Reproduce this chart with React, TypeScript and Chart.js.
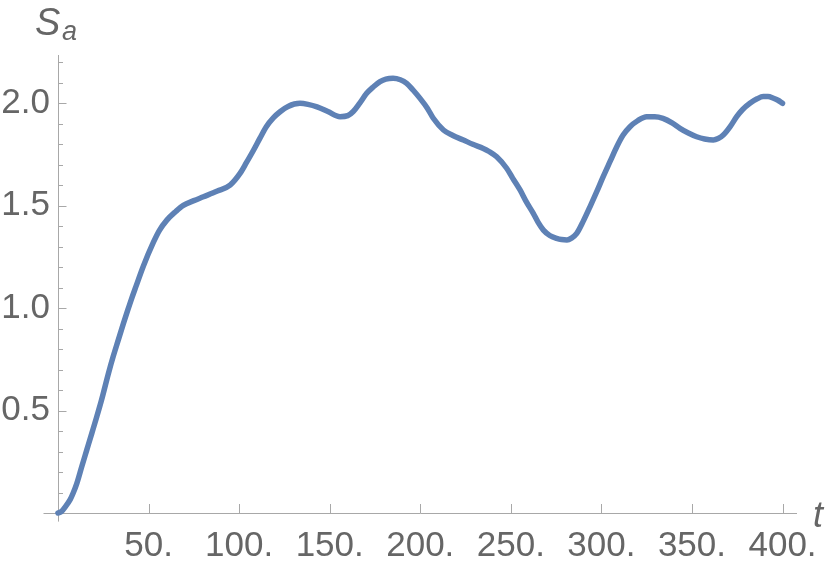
import React, { useEffect, useRef } from 'react';
import { Chart, registerables } from 'chart.js';

Chart.register(...registerables);

// Data
const tValues = [
  0, 2, 4, 6.7, 8.5, 10.4, 13.1, 15.9, 18.7, 21.4, 24, 27.8, 30.5, 33.3, 36, 38.5, 40.7, 43, 47.1, 52.7, 56,
  60.1, 65, 69.2, 75, 80.3, 88, 95, 100.5, 104, 108, 111.5, 115, 119, 122.6, 127, 133.6, 138, 143, 149,
  155.7, 160, 163, 166.5, 170.4, 174, 177.8, 181, 185, 189, 192.5, 196, 200, 204, 207.2, 212.8, 218, 223.8,
  229, 234.8, 238, 242.2, 247.7, 251, 255.1, 258.5, 262.4, 265, 268, 271.5, 275.3, 278, 281, 283.5, 286.4,
  290, 293.7, 297.5, 301, 305, 308.5, 312, 315.8, 320, 325, 329.5, 334, 339, 343.4, 348, 352.6, 357, 361.8,
  364.5, 367.3, 371, 374.7, 378, 382, 386, 389.4, 392, 395, 397.5, 400,
];
const saValues = [
  0, 0.008, 0.03, 0.065, 0.1, 0.145, 0.226, 0.308, 0.39, 0.47, 0.55, 0.68, 0.765, 0.845, 0.922, 0.99,
  1.048, 1.105, 1.205, 1.322, 1.38, 1.43, 1.472, 1.502, 1.525, 1.544, 1.572, 1.601, 1.658, 1.71, 1.772,
  1.83, 1.886, 1.93, 1.959, 1.985, 2.0, 1.995, 1.983, 1.96, 1.935, 1.94, 1.96, 2.0, 2.049, 2.08, 2.106,
  2.118, 2.122, 2.115, 2.098, 2.065, 2.023, 1.975, 1.927, 1.87, 1.843, 1.821, 1.8, 1.78, 1.765, 1.739,
  1.683, 1.635, 1.577, 1.52, 1.463, 1.42, 1.381, 1.355, 1.341, 1.335, 1.333, 1.342, 1.365, 1.425, 1.495,
  1.57, 1.642, 1.72, 1.788, 1.845, 1.886, 1.915, 1.935, 1.935, 1.927, 1.905, 1.878, 1.855, 1.837, 1.826,
  1.821, 1.828, 1.845, 1.885, 1.935, 1.97, 2.0, 2.022, 2.033, 2.033, 2.025, 2.015, 2.0,
];

const xTickValues = [50, 100, 150, 200, 250, 300, 350, 400];
const xTickLabels = ['50.', '100.', '150.', '200.', '250.', '300.', '350.', '400.'];
const yTickValues = [0.5, 1.0, 1.5, 2.0];
const yTickLabels = ['0.5', '1.0', '1.5', '2.0'];
const yMinorValues = [0.1, 0.2, 0.3, 0.4, 0.6, 0.7, 0.8, 0.9, 1.1, 1.2, 1.3, 1.4, 1.6, 1.7, 1.8, 1.9, 2.1, 2.2];

const xRange = { min: 0, max: 408, axisStart: -8 };
const yRange = { min: 0, max: 2.236, axisStart: -0.042 };

const LINE_COLOR = '#5E81B5';
const AXIS_COLOR = '#a8a8a8';
const TEXT_COLOR = '#666666';
const FONT = "'Liberation Sans', Arial, Helvetica, sans-serif";

const axesPlugin = {
  id: 'mmaAxes',
  beforeDatasetsDraw(chart: any) {
    const { ctx, scales } = chart;
    const xs = scales.x;
    const ys = scales.y;
    const x0 = xs.getPixelForValue(0);
    const y0 = ys.getPixelForValue(0);
    ctx.save();
    ctx.strokeStyle = AXIS_COLOR;
    ctx.lineWidth = 1;
    ctx.beginPath();
    ctx.moveTo(xs.getPixelForValue(xRange.axisStart), Math.round(y0) + 0.5);
    ctx.lineTo(xs.getPixelForValue(xRange.max), Math.round(y0) + 0.5);
    ctx.moveTo(Math.round(x0) + 0.5, ys.getPixelForValue(yRange.axisStart));
    ctx.lineTo(Math.round(x0) + 0.5, ys.getPixelForValue(yRange.max));
    ctx.stroke();
    ctx.beginPath();
    xTickValues.forEach((v) => {
      const px = Math.round(xs.getPixelForValue(v)) + 0.5;
      ctx.moveTo(px, y0);
      ctx.lineTo(px, y0 - 9);
    });
    yTickValues.forEach((v) => {
      const py = Math.round(ys.getPixelForValue(v)) + 0.5;
      ctx.moveTo(x0, py);
      ctx.lineTo(x0 + 8.5, py);
    });
    yMinorValues.forEach((v) => {
      const py = Math.round(ys.getPixelForValue(v)) + 0.5;
      ctx.moveTo(x0, py);
      ctx.lineTo(x0 + 5, py);
    });
    ctx.stroke();
    ctx.restore();
  },
  afterDraw(chart: any) {
    const { ctx } = chart;
    ctx.save();
    ctx.fillStyle = TEXT_COLOR;
    ctx.textAlign = 'left';
    ctx.textBaseline = 'alphabetic';
    ctx.font = `italic 38px ${FONT}`;
    ctx.fillText('S', 35, 35);
    ctx.font = `italic 27px ${FONT}`;
    ctx.fillText('a', 62, 40);
    ctx.font = `italic 36px ${FONT}`;
    ctx.fillText('t', 813, 527);
    ctx.restore();
  },
};

export default function App() {
  const canvasRef = useRef<HTMLCanvasElement | null>(null);

  useEffect(() => {
    const canvas = canvasRef.current;
    if (!canvas) return;
    const chart = new Chart(canvas, {
      type: 'line',
      data: {
        datasets: [
          {
            data: tValues.map((t, i) => ({ x: t, y: saValues[i] })),
            borderColor: LINE_COLOR,
            borderWidth: 5.5,
            pointRadius: 0,
            fill: false,
            cubicInterpolationMode: 'monotone',
            borderCapStyle: 'round',
            borderJoinStyle: 'round',
            clip: 10,
          } as any,
        ],
      },
      options: {
        responsive: false,
        animation: false,
        events: [],
        layout: { padding: { top: 55, right: 33, left: 0, bottom: 0 } },
        plugins: {
          legend: { display: false },
          tooltip: { enabled: false },
          title: { display: false },
        },
        scales: {
          x: {
            type: 'linear',
            min: xRange.min,
            max: xRange.max,
            grid: { display: false, drawTicks: false },
            border: { display: false },
            afterFit: (scale: any) => {
              scale.height = 50;
            },
            afterBuildTicks: (scale: any) => {
              scale.ticks = xTickValues.map((v) => ({ value: v }));
            },
            ticks: {
              autoSkip: false,
              maxRotation: 0,
              minRotation: 0,
              padding: 12,
              color: TEXT_COLOR,
              font: { family: FONT, size: 35 },
              callback: (value: any) => {
                const i = xTickValues.indexOf(Number(value));
                return i >= 0 ? xTickLabels[i] : '';
              },
            },
          },
          y: {
            type: 'linear',
            min: yRange.min,
            max: yRange.max,
            grid: { display: false, drawTicks: false },
            border: { display: false },
            afterFit: (scale: any) => {
              scale.width = 58;
            },
            afterBuildTicks: (scale: any) => {
              scale.ticks = yTickValues.map((v) => ({ value: v }));
            },
            ticks: {
              autoSkip: false,
              padding: 8,
              color: TEXT_COLOR,
              font: { family: FONT, size: 35 },
              callback: (value: any) => {
                const i = yTickValues.findIndex((v) => Math.abs(v - Number(value)) < 1e-9);
                return i >= 0 ? yTickLabels[i] : '';
              },
            },
          },
        },
      },
      plugins: [axesPlugin],
    });
    return () => chart.destroy();
  }, []);

  return (
    <div style={{ position: 'absolute', left: 0, top: 0, width: 830, height: 563, background: '#fff' }}>
      <canvas ref={canvasRef} width={830} height={563} style={{ display: 'block' }} />
    </div>
  );
}
